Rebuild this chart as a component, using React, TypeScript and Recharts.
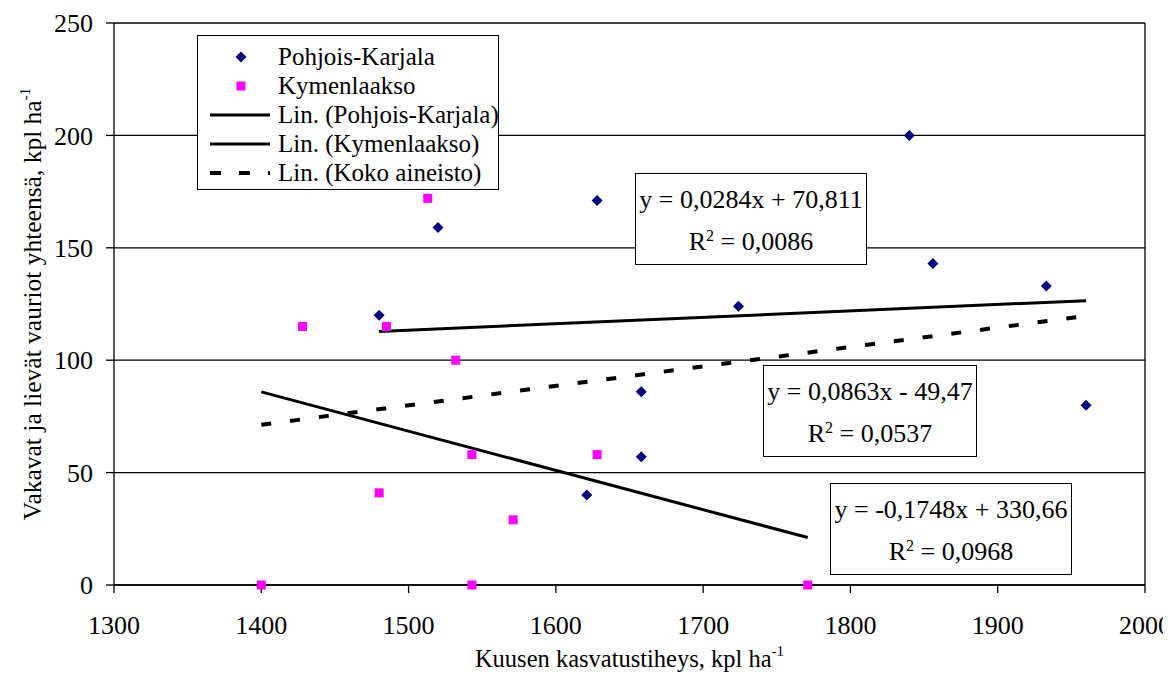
import React from 'react';
import { ScatterChart, Scatter, XAxis, YAxis, CartesianGrid, ReferenceLine, Label } from 'recharts';

const pohjoisKarjala = [
  { x: 1480, y: 120 }, { x: 1520, y: 159 }, { x: 1628, y: 171 }, { x: 1621, y: 40 },
  { x: 1658, y: 86 }, { x: 1658, y: 57 }, { x: 1724, y: 124 }, { x: 1840, y: 200 },
  { x: 1856, y: 143 }, { x: 1933, y: 133 }, { x: 1960, y: 80 },
];
const kymenlaakso = [
  { x: 1400, y: 0 }, { x: 1428, y: 115 }, { x: 1480, y: 41 }, { x: 1485, y: 115 },
  { x: 1513, y: 172 }, { x: 1532, y: 100 }, { x: 1543, y: 58 }, { x: 1543, y: 0 },
  { x: 1571, y: 29 }, { x: 1628, y: 58 }, { x: 1771, y: 0 },
];
// trend line end points
const trendPK = [{ x: 1480, y: 112.8 }, { x: 1960, y: 126.5 }];
const trendKY = [{ x: 1400, y: 85.9 }, { x: 1771, y: 21.1 }];
const trendAll = [{ x: 1400, y: 71.3 }, { x: 1960, y: 119.7 }];

const xTicks = [1300, 1400, 1500, 1600, 1700, 1800, 1900, 2000];
const yTicks = [0, 50, 100, 150, 200, 250];

const legendItems = ['Pohjois-Karjala', 'Kymenlaakso', 'Lin. (Pohjois-Karjala)', 'Lin. (Kymenlaakso)', 'Lin. (Koko aineisto)'];
const equations = [
  { eq: 'y = 0,0284x + 70,811', r2: '0,0086' },
  { eq: 'y = 0,0863x - 49,47', r2: '0,0537' },
  { eq: 'y = -0,1748x + 330,66', r2: '0,0968' },
];

const FONT = "'Liberation Serif', 'Times New Roman', Times, 'DejaVu Serif', serif";
const NAVY = '#000080';
const PINK = '#FF00FF';

const Diamond = (props: any) => {
  const { cx, cy } = props;
  return <path d={`M${cx},${cy - 5.5}L${cx + 5.5},${cy}L${cx},${cy + 5.5}L${cx - 5.5},${cy}Z`} fill={NAVY} />;
};
const Square = (props: any) => {
  const { cx, cy } = props;
  return <rect x={cx - 4.5} y={cy - 4.5} width={9} height={9} fill={PINK} />;
};

const XTitle = (props: any) => {
  const { viewBox } = props;
  const cx = viewBox.x + viewBox.width / 2;
  return (
    <text x={cx} y={viewBox.y + 82} textAnchor="middle" style={{ fontFamily: FONT }} fontSize={24.5} fill="#000">
      Kuusen kasvatustiheys, kpl ha<tspan dy={-11} fontSize={15}>-1</tspan>
    </text>
  );
};
const YTitle = (props: any) => {
  const { viewBox } = props;
  const cy = viewBox.y + viewBox.height / 2;
  const x = 33;
  return (
    <text x={x} y={cy} transform={`rotate(-90 ${x} ${cy})`} textAnchor="middle" style={{ fontFamily: FONT }} fontSize={25.5} fill="#000">
      Vakavat ja lievät vauriot yhteensä, kpl ha<tspan dy={-11} fontSize={15}>-1</tspan>
    </text>
  );
};

const boxStyle: React.CSSProperties = {
  position: 'absolute', background: '#fff', border: '1.5px solid #000', boxSizing: 'border-box',
  fontFamily: FONT, fontSize: 26, textAlign: 'center', lineHeight: '42px', paddingTop: 5, whiteSpace: 'nowrap',
};

const EqBox = ({ i, left, top, width }: { i: number; left: number; top: number; width: number }) => (
  <div style={{ ...boxStyle, left, top, width, height: 92 }}>
    <div>{equations[i].eq}</div>
    <div>R<sup style={{ fontSize: 16, verticalAlign: 'top', lineHeight: '30px' }}>2</sup> = {equations[i].r2}</div>
  </div>
);

const LegendBox = () => (
  <div style={{ ...boxStyle, left: 189, top: 27, width: 302, height: 155, fontSize: 25, textAlign: 'left', lineHeight: '29px', paddingTop: 6 }}>
    {legendItems.map((name, i) => (
      <div key={name} style={{ display: 'flex', alignItems: 'center', height: 29 }}>
        <svg width={80} height={29} style={{ flex: 'none' }}>
          {i === 0 && <Diamond cx={43} cy={15} />}
          {i === 1 && <Square cx={43} cy={15} />}
          {(i === 2 || i === 3) && <line x1={12} x2={72} y1={15} y2={15} stroke="#000" strokeWidth={3} />}
          {i === 4 && <line x1={12} x2={72} y1={15} y2={15} stroke="#000" strokeWidth={4} strokeDasharray="11 18" />}
        </svg>
        <span>{name}</span>
      </div>
    ))}
  </div>
);

const tickStyle = { fontFamily: FONT, fontSize: 26, fill: '#000' };

export default function App() {
  return (
    <div style={{ position: 'relative', width: 1163, height: 665, fontFamily: FONT }}>
      <ScatterChart width={1163} height={665} margin={{ top: 15, right: 26, left: 0, bottom: 0 }} style={{ fontFamily: FONT }}>
        <CartesianGrid horizontal vertical={false} stroke="#000" strokeWidth={1.3} />
        <XAxis
          type="number" dataKey="x" domain={[1300, 2000]} ticks={xTicks} height={88}
          stroke="#000" strokeWidth={1.3} tickSize={8} tickMargin={23} tick={tickStyle}
        >
          <Label content={<XTitle />} />
        </XAxis>
        <YAxis
          type="number" dataKey="y" domain={[0, 250]} ticks={yTicks} width={106}
          stroke="#000" strokeWidth={1.3} tickSize={8} tickMargin={13} tick={tickStyle}
        >
          <Label content={<YTitle />} />
        </YAxis>
        <ReferenceLine x={2000} stroke="#000" strokeWidth={1.3} />
        <ReferenceLine segment={trendPK} stroke="#000" strokeWidth={3} />
        <ReferenceLine segment={trendKY} stroke="#000" strokeWidth={3} />
        <ReferenceLine segment={trendAll} stroke="#000" strokeWidth={4} strokeDasharray="10 19" />
        <Scatter name="Pohjois-Karjala" data={pohjoisKarjala} shape={<Diamond />} isAnimationActive={false} />
        <Scatter name="Kymenlaakso" data={kymenlaakso} shape={<Square />} isAnimationActive={false} />
      </ScatterChart>
      <LegendBox />
      <EqBox i={0} left={627} top={165} width={232} />
      <EqBox i={1} left={755} top={357} width={214} />
      <EqBox i={2} left={822} top={475} width={242} />
    </div>
  );
}
